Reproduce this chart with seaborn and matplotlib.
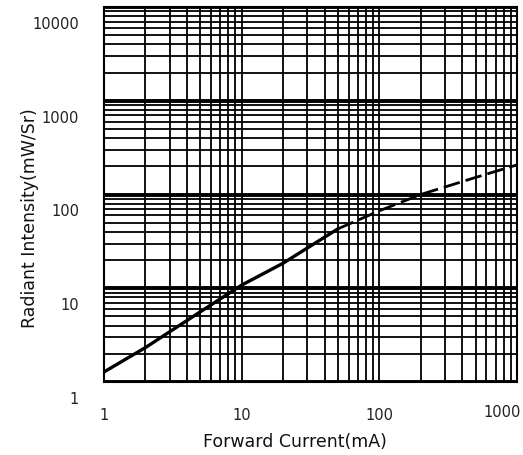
import numpy as np
import pandas as pd
import matplotlib
matplotlib.use("Agg")
import matplotlib.pyplot as plt
import matplotlib.transforms as mtransforms
import seaborn as sns

# Forward current (mA) vs radiant intensity (mW/Sr)
current_measured = [1, 2, 5, 10, 20, 50]
intensity_measured = [1.28, 2.33, 5.6, 10.8, 18.5, 43]
current_extrap = [50, 100, 200, 500, 1000]
intensity_extrap = [43, 67, 100, 152, 207]

x_ticks = [1, 10, 100, 1000]
x_tick_labels = ["1", "10", "100", "1000"]
y_ticks = [1, 10, 100, 1000, 10000]
y_tick_labels = ["1", "10", "100", "1000", "10000"]

sns.set_style("white")
plt.rcParams['font.family'] = ['DejaVu Sans']

fig = plt.figure(figsize=(5.23, 4.56), dpi=100)
ax = fig.add_axes([104 / 523, 1 - 383 / 456, 413 / 523, 375 / 456])

ax.set_xscale("log")
ax.set_yscale("log")
ax.set_xlim(1, 1000)
ax.set_ylim(1, 10000)

# dense datasheet style grid
ax.set_xticks(x_ticks)
ax.set_yticks(y_ticks)
ax.xaxis.set_minor_locator(matplotlib.ticker.LogLocator(base=10, subs=np.arange(2, 10)))
ax.yaxis.set_minor_locator(matplotlib.ticker.LogLocator(base=10, subs=np.arange(2, 10)))
ax.xaxis.set_minor_formatter(matplotlib.ticker.NullFormatter())
ax.yaxis.set_minor_formatter(matplotlib.ticker.NullFormatter())
ax.grid(which="minor", color="black", linewidth=1.3)
ax.grid(which="major", axis="x", color="black", linewidth=1.3)
ax.grid(which="major", axis="y", color="black", linewidth=2.8)
ax.set_axisbelow(True)
ax.tick_params(which="both", length=0)

df_meas = pd.DataFrame({"current": current_measured, "intensity": intensity_measured})
df_ext = pd.DataFrame({"current": current_extrap, "intensity": intensity_extrap})
sns.lineplot(data=df_meas, x="current", y="intensity", ax=ax, color="black", linewidth=2.4)
sns.lineplot(data=df_ext, x="current", y="intensity", ax=ax, color="black", linewidth=2.0,
             linestyle=(0, (6, 2.2)))

ax.set_xticklabels(x_tick_labels)
ax.set_yticklabels(y_tick_labels)
ax.tick_params(axis="x", labelsize=10.5, labelcolor="#222222", pad=18)
ax.tick_params(axis="y", labelsize=10.5, labelcolor="#222222", pad=18)

# labels in the scan sit a little below their gridlines
offset = mtransforms.ScaledTranslation(0, -0.15, fig.dpi_scale_trans)
for lbl in ax.get_yticklabels():
    lbl.set_transform(lbl.get_transform() + offset)
last = ax.get_xticklabels()[-1]
last.set_transform(last.get_transform() + mtransforms.ScaledTranslation(-0.15, 0.03, fig.dpi_scale_trans))

ax.set_xlabel("Forward Current(mA)", fontsize=12.5, color="#111111")
ax.set_ylabel("Radiant Intensity(mW/Sr)", fontsize=12.5, color="#111111")
ax.xaxis.set_label_coords(0.462, -0.133)
ax.yaxis.set_label_coords(-0.158, 0.44)

for s in ax.spines.values():
    s.set_color("black")
    s.set_linewidth(1.5)

fig.savefig("out.png", dpi=100)
